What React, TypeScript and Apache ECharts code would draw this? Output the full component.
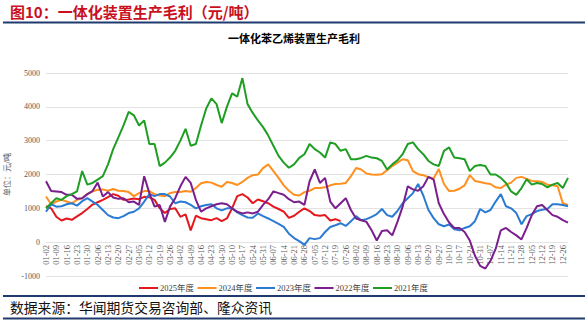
import React, { useEffect, useRef } from "react";
import * as echarts from "echarts";

const weekLabels = ["01-02","01-09","01-16","01-23","01-30","02-06","02-13","02-20","02-27","03-05","03-12","03-19","03-26","04-02","04-09","04-16","04-23","04-30","05-10","05-17","05-24","05-31","06-07","06-14","06-21","06-28","07-05","07-12","07-19","07-26","08-02","08-09","08-16","08-23","08-30","09-06","09-13","09-20","09-27","10-10","10-17","10-24","10-31","11-07","11-14","11-21","11-28","12-05","12-12","12-19","12-26"];

const seriesNames = ["2025年度", "2024年度", "2023年度", "2022年度", "2021年度"];
const seriesColors = ["#e3171c", "#ff8f1f", "#2b7bd3", "#7a1f8d", "#1f9e24"];

const y2025 = [1060,1000,750,640,700,660,760,860,980,1110,1180,1250,1330,1420,1370,1250,1260,1290,1270,1340,1330,1250,1000,860,980,1000,750,820,350,780,710,680,650,710,620,700,1000,1360,1420,1320,1150,1260,1210,1150,1050,980,900,720,780,900,1000,920,800,780,800,640,680,620];
const y2024 = [1350,1120,1200,1250,1200,1150,1250,1300,1420,1500,1550,1560,1520,1570,1520,1510,1480,1360,1450,1510,1510,1420,1380,1360,1450,1480,1480,1510,1490,1600,1740,1780,1760,1690,1640,1780,1750,1690,1780,1900,1980,2000,2190,2300,2100,1900,1680,1520,1400,1380,1480,1520,1600,1600,1620,1680,1720,1730,1750,1950,2190,2150,2030,2000,1990,2010,2130,2250,2350,2450,2420,2100,2010,1980,1920,1880,2160,1720,1510,1520,1580,1680,1980,1810,1780,1740,1720,1620,1600,1700,1760,1900,1930,1870,1810,1800,1780,1700,1680,1650,1150,1100];
const y2023 = [900,1120,1050,1060,1120,1150,1080,1210,1300,1200,1100,950,800,730,710,770,860,900,1000,1200,1420,1360,1420,1420,1350,1150,1200,1180,1100,1000,1060,1100,1120,1000,940,1000,1000,880,800,730,720,850,770,700,620,540,450,250,120,30,-80,120,90,120,300,450,500,560,480,620,770,650,680,750,830,980,800,750,920,1150,1300,1450,1720,1380,950,710,530,470,520,380,350,420,470,620,980,880,950,1200,1420,1060,1000,860,530,770,830,920,960,980,1120,1120,1100,1060];
const y2022 = [1800,1510,1500,1480,1400,1400,1280,1300,1420,1510,1760,1350,1480,1320,1280,1300,1180,1200,1100,1950,1450,1050,1100,600,1050,1300,1650,1930,1750,1250,900,1000,1060,1120,1150,1120,1000,900,850,880,850,900,1100,1270,1500,1450,1400,1270,1180,1200,1100,1800,2150,1750,1900,1200,1000,1150,1300,950,700,650,600,350,50,330,350,200,600,1050,1650,1560,1520,1650,1930,1850,1150,830,580,420,420,300,50,-400,-700,-780,-550,-200,350,420,300,200,80,420,800,1060,1100,950,800,750,650,580];
const y2021 = [1000,1150,1300,1250,1360,1420,1500,2100,1700,1750,1850,1950,2300,2750,3100,3450,3850,3750,3450,3600,2900,2900,2250,2350,2500,2700,3000,3350,2850,2900,3450,3950,4250,4080,3520,4000,4400,4300,4850,4080,3820,3600,3400,3150,2850,2550,2350,2200,2300,2490,2600,2900,2750,2650,2500,2950,2900,2700,2750,2450,2450,2490,2550,2500,2480,2400,2150,2300,2420,2600,2900,2950,2750,2600,2400,2300,2250,2700,2800,2500,2480,2450,2100,2250,2280,2250,2000,2000,1900,1750,1500,1400,1600,1860,1700,1750,1720,1620,1700,1750,1600,1900];

const yTicks = [-1000, 0, 1000, 2000, 3000, 4000, 5000];

export default function App() {
  const ref = useRef<HTMLDivElement>(null);
  useEffect(() => {
    document.body.style.margin = "0";
    const chart = echarts.init(ref.current!, null, { renderer: "svg" });
    const categories: string[] = [];
    weekLabels.forEach((l) => {
      categories.push(l);
      categories.push("");
    });
    const allData = [y2025, y2024, y2023, y2022, y2021];
    const serif = "'Liberation Serif', 'Noto Sans CJK SC', serif";
    const legendItems: any[] = [];
    seriesNames.forEach((n, i) => {
      const x0 = 139 + i * 58.5;
      legendItems.push({ type: "rect", shape: { x: x0, y: 287, width: 19, height: 2 }, style: { fill: seriesColors[i] } });
      legendItems.push({
        type: "text",
        x: x0 + 21,
        y: 288,
        style: { text: n, fill: "#404040", fontSize: 8.5, fontFamily: serif, verticalAlign: "middle", align: "left" },
      });
    });
    chart.setOption({
      animation: false,
      backgroundColor: "#ffffff",
      title: {
        text: "一体化苯乙烯装置生产毛利",
        left: "center",
        top: 27,
        textStyle: { fontSize: 11, fontWeight: "bold", color: "#000", fontFamily: "'Noto Sans CJK SC', sans-serif" },
      },
      grid: { left: 46, right: 20, top: 73, bottom: 54, containLabel: false, outerBoundsMode: "none" },
      xAxis: {
        type: "category",
        position: "bottom",
        data: categories,
        boundaryGap: false,
        axisLine: { show: false, onZero: false },
        axisTick: { show: false },
        axisLabel: { interval: 1, rotate: 90, fontSize: 8.5, color: "#595959", fontFamily: serif, margin: -31 },
        splitLine: { show: false },
      },
      yAxis: {
        type: "value",
        min: yTicks[0],
        max: yTicks[yTicks.length - 1],
        interval: 1000,
        name: "单位：元/吨",
        nameLocation: "middle",
        nameRotate: 90,
        nameGap: 26,
        nameTextStyle: { fontSize: 8, color: "#595959", fontFamily: "'Noto Sans CJK SC', sans-serif" },
        axisLine: { show: false },
        axisTick: { show: false },
        axisLabel: { fontSize: 8, color: "#595959", fontFamily: serif, margin: 6, formatter: (v: number) => String(v) },
        splitLine: { lineStyle: { color: "#e3e3e3", width: 1 } },
      },
      graphic: [
        { type: "text", left: 10, top: 4, style: { text: "图10：一体化装置生产毛利（元/吨）", fill: "#c8101e", fontSize: 15, fontWeight: "bold", fontFamily: "'Noto Sans CJK SC', sans-serif" } },
        { type: "line", shape: { x1: 3, y1: 22.5, x2: 585, y2: 22.5 }, style: { stroke: "#1f3a6e", lineWidth: 2 } },
        { type: "line", shape: { x1: 3, y1: 296, x2: 585, y2: 296 }, style: { stroke: "#1f3a6e", lineWidth: 2 } },
        { type: "text", left: 10, top: 300, style: { text: "数据来源：华闻期货交易咨询部、隆众资讯", fill: "#111", fontSize: 13.8, fontFamily: "'Noto Sans CJK SC', sans-serif" } },
        { type: "line", shape: { x1: 3, y1: 318.5, x2: 585, y2: 318.5 }, style: { stroke: "#1f3a6e", lineWidth: 2 } },
        ...legendItems,
      ],
      series: seriesNames.map((n, i) => ({
        name: n,
        type: "line",
        data: allData[i],
        symbol: "none",
        color: seriesColors[i],
        lineStyle: { width: 2, color: seriesColors[i] },
      })),
    });
    return () => chart.dispose();
  }, []);
  return <div ref={ref} style={{ position: "fixed", left: 0, top: 0, width: 588, height: 330 }} />;
}
